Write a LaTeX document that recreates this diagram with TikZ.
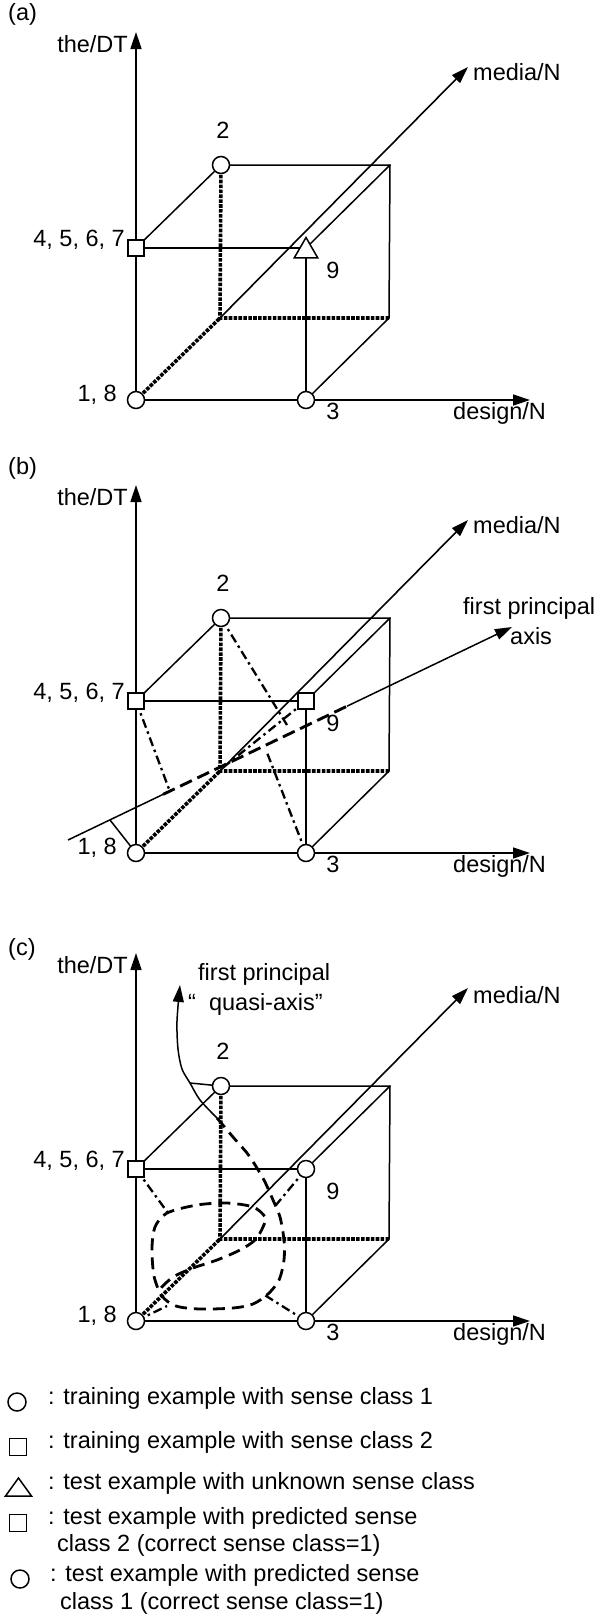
\documentclass[tikz,border=0pt]{standalone}
\usepackage{fontspec}
\setmainfont{Liberation Sans}
\usetikzlibrary{arrows.meta,shapes.geometric}
\newcommand\framelines[1]{%
 \coordinate (#1O) at (136,400);
 \coordinate (#1X) at (530,400);
 \coordinate (#1Y) at (136,32);
 \coordinate (#1M) at (468,67);
 \coordinate (#1S) at (136,248);
 \coordinate (#1T) at (306,248);
 \coordinate (#1P) at (306,400);
 \coordinate (#1B) at (220,318);
 \coordinate (#1Two) at (221,165);
 \coordinate (#1BT) at (390,165);
 \coordinate (#1BR) at (389,318);
 \draw[axis] (#1O) -- (#1Y);
 \draw[axis] (#1O) -- (#1X);
 \draw[axis] (#1B) -- (#1M);
 \draw[edge] (#1S) -- (#1Two) -- (#1BT) -- (#1BR) -- (#1P);
 \draw[edge] (#1BT) -- (#1T);
 \draw[edge] (#1S) -- (#1T) -- (#1P);
 \draw[hidden] (#1O) -- (#1B);
 \draw[hidden] (#1Two) -- (#1B) -- (#1BR);
 \node[anchor=mid east] (#1lY) at (128,50) {the/DT};
 \node[anchor=mid west] (#1lX) at (453,417) {design/N};
 \node[anchor=mid east] (#1l4) at (125,244) {4, 5, 6, 7};
 \node[anchor=mid east] (#1l1) at (117,399) {1, 8};
 \node[anchor=mid] (#1l2) at (223,136) {2};
 \node[anchor=mid] (#1l3) at (333,417) {3};
 \node[anchor=mid] (#1l9) at (333,276) {9};
}
\newcommand\framemarks[1]{%
 \node[circ] (#1m1) at (#1O) {};
 \node[circ] (#1m3) at (#1P) {};
 \node[circ] (#1m2) at (#1Two) {};
 \node[sq] (#1m4) at (#1S) {};
}
\begin{document}
\begin{tikzpicture}[x=1pt,y=-1pt,
  every node/.style={font=\fontsize{23.5}{28}\selectfont, inner sep=0pt},
  axis/.style={line width=1.6pt,-{Triangle[length=17pt,width=11pt]}},
  edge/.style={line width=1.5pt},
  hidden/.style={line width=3.6pt,dash pattern=on 3.6pt off 1.3pt},
  dashdot/.style={line width=2.3pt,dash pattern=on 9pt off 4pt on 2.5pt off 4pt},
  longdash/.style={line width=2.9pt,dash pattern=on 13pt off 6pt},
  qdash/.style={line width=2.8pt,dash pattern=on 12pt off 7pt},
  circ/.style={draw,circle,fill=white,line width=1.5pt,minimum size=17pt},
  sq/.style={draw,rectangle,fill=white,line width=1.5pt,minimum size=16pt},
  tri/.style={draw,regular polygon,regular polygon sides=3,fill=white,line width=1.5pt,minimum size=27pt},
]
\fill[white] (0,0) rectangle (600,1623);
\path[use as bounding box] (0,0) rectangle (600,1623);

% ---------------- (a)
\begin{scope}
\node[anchor=mid west] (la) at (8,18) {(a)};
\framelines{a}
\node[anchor=mid west] (alM) at (473,78) {media/N};
\framemarks{a}
\node[tri] (am9) at (306,251) {};
\end{scope}

% ---------------- (b)
\begin{scope}[shift={(0,453)}]
\node[anchor=mid west] (lb) at (8,19) {(b)};
\framelines{b}
\node[anchor=mid west] (blM) at (473,78) {media/N};
\coordinate (bA0) at (68,387);
\coordinate (bA1) at (163,341.4);
\coordinate (bA2) at (347,253.2);
\coordinate (bAt) at (512,174);
\draw[edge] (bA0) -- (bA1);
\draw[longdash] (bA1) -- (bA2);
\draw[axis,line width=1.5pt] (bA2) -- (bAt);
\node[anchor=mid west] (blP1) at (463,159) {first principal};
\node[anchor=mid west] (blP2) at (510,189) {axis};
\coordinate (bF4) at (169,336);
\coordinate (bF2) at (287,272);
\coordinate (bF3) at (266,297);
\coordinate (bF1) at (110,367);
\coordinate (bF9) at (220,317);
\draw[dashdot] (bS) -- (bF4);
\draw[dashdot] (bTwo) -- (bF2);
\draw[dashdot] (bP) -- (bF3);
\draw[dashdot] (bT) -- (bF9);
\draw[edge] (bO) -- (bF1);
\framemarks{b}
\node[sq] (bm9) at (bT) {};
\end{scope}

% ---------------- (c)
\begin{scope}[shift={(0,921)}]
\node[anchor=mid west] (lc) at (8,32) {(c)};
\framelines{c}
\node[anchor=mid west] (clM) at (473,80) {media/N};
\draw[axis,line width=1.5pt] plot[smooth] coordinates {(217,197) (200,179) (190,162) (182,148) (178,128) (177,100) (180,64)};
\node[anchor=mid west] (clQ1) at (198,57) {first principal};
\node[anchor=mid west] (clQ2) at (188,87) {“\ \ quasi-axis”};
\draw[qdash] plot[smooth] coordinates {(217,197) (233,216) (247,232) (257,247) (265,261) (273,279) (280,296) (284,319) (284,339) (279,359) (268,373) (253,383) (233,387) (200,388) (176,385) (162,375) (154,355) (152,327) (155,306) (167,292) (197,284) (227,282) (253,286) (265,296) (263,306) (255,319) (240,329) (217,339) (193,347) (173,356) (160,368)};
\coordinate (cF4) at (168,292);
\coordinate (cF9) at (276,284);
\coordinate (cF3) at (263,373);
\coordinate (cF1) at (167,385);
\coordinate (cF2) at (190,162);
\draw[dashdot] (cS) -- (cF4);
\draw[dashdot] (cT) -- (cF9);
\draw[dashdot] (cP) -- (cF3);
\draw[dashdot] (cO) -- (cF1);
\draw[edge] (cF2) -- (cTwo);
\framemarks{c}
\node[circ] (cm9) at (cT) {};
\end{scope}

% ---------------- legend
\node[circ,minimum size=18pt] (g1) at (17,1402) {};
\node[anchor=mid west] (t1) at (48,1402) {: training example with sense class 1};
\node[sq,minimum size=17pt] (g2) at (18,1447) {};
\node[anchor=mid west] (t2) at (48,1446) {: training example with sense class 2};
\node[draw,line width=1.5pt,regular polygon,regular polygon sides=3,minimum size=30pt,yscale=0.8] (g3) at (18.5,1490) {};
\node[anchor=mid west] (t3) at (48,1487) {: test example with unknown sense class};
\node[sq,minimum size=17pt] (g4) at (18,1523) {};
\node[anchor=mid west] (t4) at (48,1522) {: test example with predicted sense};
\node[anchor=mid west] (t4b) at (57,1549) {class 2 (correct sense class=1)};
\node[circ,minimum size=18pt] (g5) at (20,1579) {};
\node[anchor=mid west] (t5) at (50,1579) {: test example with predicted sense};
\node[anchor=mid west] (t5b) at (60,1607) {class 1 (correct sense class=1)};
\end{tikzpicture}
\end{document}
